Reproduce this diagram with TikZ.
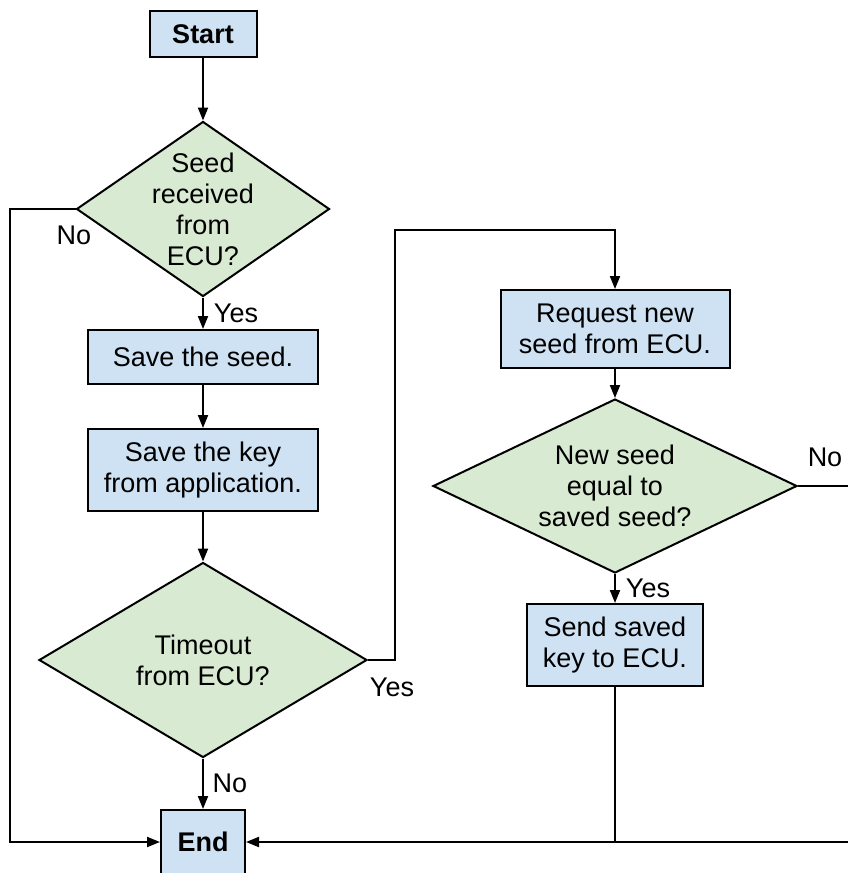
\documentclass[tikz,border=0pt]{standalone}
\usepackage{fontspec}
\setmainfont{Liberation Sans}
\usetikzlibrary{shapes.geometric,arrows.meta}

\definecolor{boxblue}{HTML}{CFE2F3}
\definecolor{decgreen}{HTML}{D9EAD3}

\tikzset{
  stepbox/.style={draw=black, fill=boxblue, line width=2pt, rectangle,
    align=center, inner sep=0pt},
  decision/.style={draw=black, fill=decgreen, line width=2pt, diamond,
    inner sep=0pt},
  flow/.style={line width=2pt, draw=black},
  arr/.style={flow, -{Triangle[length=13pt,width=10pt]}},
  tag/.style={inner sep=0pt, anchor=center},
}

\begin{document}
\begin{tikzpicture}[x=1pt, y=-1pt, font=\fontsize{27}{31}\selectfont]
  \useasboundingbox (0,0) rectangle (848,873);
  \clip (0,0) rectangle (848,873);

  % left column
  \node[stepbox, minimum width=107pt, minimum height=46pt] (start) at (203,34) {\textbf{Start}};
  \node[decision, minimum width=253pt, minimum height=175pt,
        label={[align=center]center:Seed\\received\\from\\ECU?}] (d1) at (203,209) {};
  \node[stepbox, minimum width=230pt, minimum height=54pt] (seed) at (203,357) {Save the seed.};
  \node[stepbox, minimum width=230pt, minimum height=82pt] (key) at (203,470) {Save the key\\from application.};
  \node[decision, minimum width=328pt, minimum height=195pt,
        label={[align=center]center:Timeout\\from ECU?}] (d2) at (203,660) {};
  \node[stepbox, minimum width=84pt, minimum height=64pt] (end) at (203,842) {\textbf{End}};

  % right column
  \node[stepbox, minimum width=229pt, minimum height=78pt] (req) at (615,329) {Request new\\seed from ECU.};
  \node[decision, minimum width=364pt, minimum height=174pt,
        label={[align=center]center:New seed\\equal to\\saved seed?}] (d3) at (615,486) {};
  \node[stepbox, minimum width=176pt, minimum height=82pt] (send) at (615,645) {Send saved\\key to ECU.};

  % routing points
  \coordinate (lft) at (10,0);
  \coordinate (top) at (395,230);
  \coordinate (rgt) at (880,0);

  % connectors
  \draw[arr] (start.south) -- (d1.north);
  \draw[arr] (d1.south) -- (seed.north);
  \draw[arr] (seed.south) -- (key.north);
  \draw[arr] (key.south) -- (d2.north);
  \draw[arr] (d2.south) -- (end.north);
  \draw[arr] (d1.west) -- (d1.west -| lft) |- (end.west);
  \draw[arr] (d2.east) -| (top) -| (req.north);
  \draw[arr] (req.south) -- (d3.north);
  \draw[arr] (d3.south) -- (send.north);
  \draw[arr] (d3.east) -- (d3.east -| rgt) |- (end.east);
  \draw[flow] (send.south) -- (send.south |- end.east);

  % branch labels
  \node[tag] (l1) at (74,235) {No};
  \node[tag] (l2) at (236,313) {Yes};
  \node[tag] (l3) at (392,687) {Yes};
  \node[tag] (l4) at (230,783) {No};
  \node[tag] (l5) at (648,588) {Yes};
  \node[tag] (l6) at (825,457) {No};
\end{tikzpicture}
\end{document}
